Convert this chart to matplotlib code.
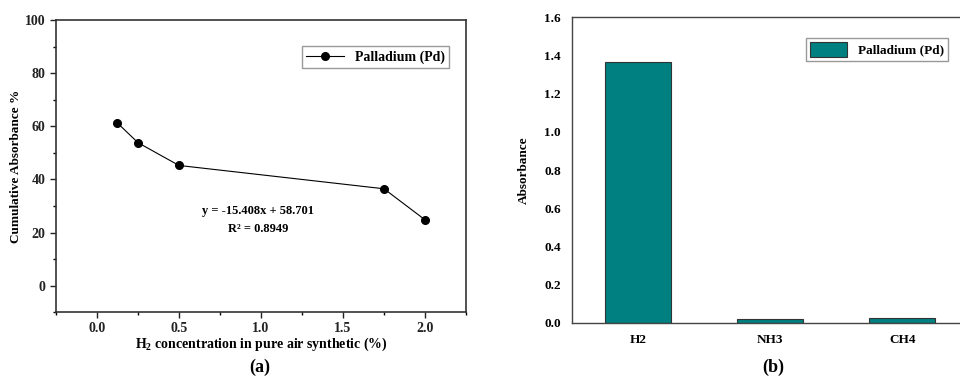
import matplotlib
matplotlib.use('Agg')
import matplotlib.pyplot as plt
from matplotlib.ticker import MultipleLocator

plt.rcParams['font.family'] = ['Liberation Serif', 'DejaVu Serif']
plt.rcParams['font.weight'] = 'bold'
plt.rcParams['mathtext.fontset'] = 'custom'
plt.rcParams['mathtext.rm'] = 'Liberation Serif:bold'
plt.rcParams['mathtext.bf'] = 'Liberation Serif:bold'

# (a) cumulative absorbance vs H2 concentration
conc = [0.125, 0.25, 0.5, 1.75, 2.0]
cum_abs = [61.3, 53.9, 45.3, 36.5, 24.8]

# (b) absorbance per gas
gases = ['H2', 'NH3', 'CH4']
absorb = [1.366, 0.021, 0.025]

fig = plt.figure(figsize=(9.6, 3.76), dpi=100)

# ---- left panel
ax1 = fig.add_axes([0.0583, 0.1702, 0.4271, 0.7753])
ax1.plot(conc, cum_abs, '-o', color='black', lw=0.8, ms=5.5, label='Palladium (Pd)')
ax1.set_xlim(-0.25, 2.25)
ax1.set_ylim(-10, 100)
ax1.xaxis.set_major_locator(MultipleLocator(0.5))
ax1.xaxis.set_minor_locator(MultipleLocator(0.25))
ax1.yaxis.set_major_locator(MultipleLocator(20))
ax1.yaxis.set_minor_locator(MultipleLocator(10))
ax1.tick_params(which='major', direction='out', length=4, width=1, labelsize=10, colors='#222222')
ax1.tick_params(which='minor', direction='out', length=2, width=1)
for s in ax1.spines.values():
    s.set_linewidth(1.2)
    s.set_color('#333333')
for lab in ax1.get_xticklabels() + ax1.get_yticklabels():
    lab.set_fontweight('bold')
ax1.set_xlabel('H$_2$ concentration in pure air synthetic (%)', fontsize=10, fontweight='bold', labelpad=0)
ax1.set_ylabel('Cumulative Absorbance %', fontsize=9.5, fontweight='bold', labelpad=2)
ax1.text(0.98, 28, 'y = -15.408x + 58.701', ha='center', va='center', fontsize=9, fontweight='bold')
ax1.text(0.98, 21.2, 'R² = 0.8949', ha='center', va='center', fontsize=9, fontweight='bold')
ax1.legend(loc='upper right', bbox_to_anchor=(0.975, 0.935), fancybox=False,
           framealpha=1, edgecolor='#999999', handlelength=2.7, borderpad=0.3,
           prop={'weight': 'bold', 'size': 10})

# ---- right panel (axes runs past the right edge, as in the reference)
ax2 = fig.add_axes([0.5958, 0.1418, 0.413, 0.8117])
ax2.bar(range(len(gases)), absorb, width=0.5, color='#008080', edgecolor='#333333', lw=0.8,
        label='Palladium (Pd)')
ax2.set_xlim(-0.5, 2.5)
ax2.set_ylim(0, 1.6)
ax2.set_xticks(range(len(gases)))
ax2.set_xticklabels(gases)
ax2.yaxis.set_major_locator(MultipleLocator(0.2))
ax2.yaxis.set_major_formatter(plt.FormatStrFormatter('%.1f'))
ax2.tick_params(length=0, labelsize=9.5, pad=8)
for lab in ax2.get_xticklabels() + ax2.get_yticklabels():
    lab.set_fontweight('bold')
for s in ax2.spines.values():
    s.set_linewidth(1.0)
    s.set_color('#444444')
ax2.set_ylabel('Absorbance', fontsize=9.5, fontweight='bold', labelpad=10)
ax2.legend(loc='upper right', bbox_to_anchor=(0.965, 0.955), fancybox=False, framealpha=1,
           edgecolor='#999999', handlelength=2.8, handleheight=1.35, borderpad=0.3,
           prop={'weight': 'bold', 'size': 9.5})

fig.text(260 / 960, 1 - 367 / 376, '(a)', ha='center', va='center', fontsize=13, fontweight='bold')
fig.text(773 / 960, 1 - 367 / 376, '(b)', ha='center', va='center', fontsize=13, fontweight='bold')

fig.savefig('out.png', dpi=100)
